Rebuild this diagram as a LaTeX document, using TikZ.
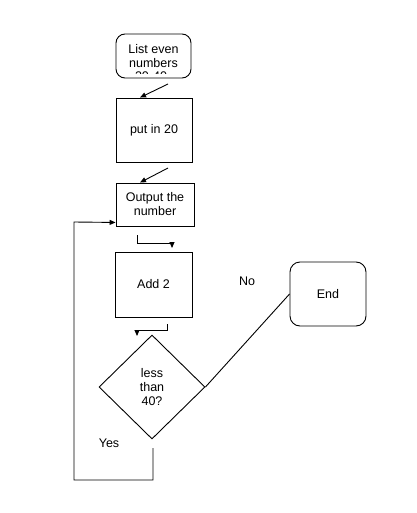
\documentclass[tikz,border=0pt]{standalone}
\usepackage{fontspec}
\setmainfont{Liberation Sans}
\usetikzlibrary{arrows.meta,shapes.geometric,calc}
\begin{document}
\begin{tikzpicture}[x=1pt,y=-1pt,line width=0.9pt,
  every node/.style={font=\fontsize{12.5}{14}\selectfont, align=center, inner sep=0pt},
  box/.style={draw, rectangle},
  term/.style={draw, rectangle, rounded corners=9pt},
  dec/.style={draw, diamond, minimum width=106pt, minimum height=104pt},
  lbl/.style={font=\fontsize{12.5}{14}\selectfont},
  arr/.style={-{Triangle[length=6pt,width=5pt]}}]
\useasboundingbox (0,0) rectangle (416,513);
% nodes
\node[term, minimum width=75pt, minimum height=44pt] (s) at (153.5,56) {List even\\numbers};
\begin{scope}
  \clip (118,40) rectangle (189,74);
  \node (s3) at (151,76) {20-40};
\end{scope}
\node[box, minimum width=76pt, minimum height=64pt] (p) at (154,130) {\raisebox{-2pt}{put in 20}};
\node[box, minimum width=78pt, minimum height=43pt] (o) at (155,204.5) {Output the\\number};
\node[box, minimum width=77pt, minimum height=65pt] (a) at (153.5,284.5) {Add 2};
\node[dec] (d) at (152,387) {less\\than\\40?};
\node[term, rounded corners=10pt, minimum width=76pt, minimum height=64pt] (e) at (328,294) {End};
\node[lbl] (no) at (247,281) {No};
\node[lbl] (yes) at (109,443) {Yes};
% free ends
\coordinate (c1) at (168,84);
\coordinate (c2) at (168,168);
\coordinate (c3a) at (137,235);
\coordinate (c3b) at (172,248);
\coordinate (c4a) at (167,324);
\coordinate (c4b) at (137,336);
\coordinate (y0) at (153,448);
% connectors
\draw[arr] (c1) -- ([xshift=-14pt]p.north);
\draw[arr] (c2) -- ([xshift=-15pt]o.north);
\draw[arr] (c3a) |- (c3b |- 0,243) -- (c3b);
\draw[arr] (c4a) |- (c4b |- 0,330) -- (c4b);
\draw (d.east) -- (e.west);
\draw[arr] (y0) -- (153,480) -- (74,480) -- (74,222) -- ($(o.south west)+(0,-4)$);
\end{tikzpicture}
\end{document}
